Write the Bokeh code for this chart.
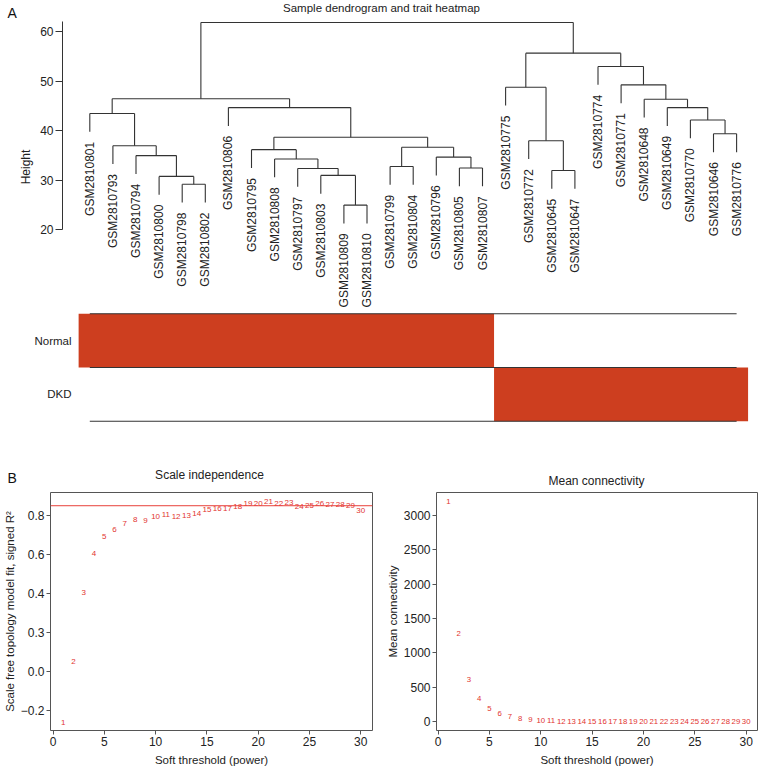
from bokeh.plotting import figure
from bokeh.models import LinearAxis, FixedTicker, Range1d, Span
from bokeh.layouts import row
from bokeh.embed import file_html
from bokeh.resources import INLINE
from bokeh.core.properties import value

FONT = "Liberation Sans"

# ---------------- data ----------------
sample_labels = ["GSM2810801", "GSM2810793", "GSM2810794", "GSM2810800", "GSM2810798",
                 "GSM2810802", "GSM2810806", "GSM2810795", "GSM2810808", "GSM2810797",
                 "GSM2810803", "GSM2810809", "GSM2810810", "GSM2810799", "GSM2810804",
                 "GSM2810796", "GSM2810805", "GSM2810807", "GSM2810775", "GSM2810772",
                 "GSM2810645", "GSM2810647", "GSM2810774", "GSM2810771", "GSM2810648",
                 "GSM2810649", "GSM2810770", "GSM2810646", "GSM2810776"]
sample_groups = ["Normal"] * 18 + ["DKD"] * 11
trait_rows = ["DKD", "Normal"]

# merges: (child a, child b, height); ints are leaves, "mK" are earlier merges
merges = [
    (4, 5, 29.2), (3, "m0", 30.8), (2, "m1", 35.0), (1, "m2", 37.0), (0, "m3", 43.5),
    (11, 12, 25.0), (10, "m5", 31.0), (9, "m6", 32.4), (8, "m7", 34.3), (7, "m8", 36.2),
    (13, 14, 32.8), (16, 17, 32.5), (15, "m11", 34.7), ("m10", "m12", 36.7),
    ("m9", "m13", 38.7), (6, "m14", 44.7), ("m4", "m15", 46.5),
    (20, 21, 32.0), (19, "m17", 38.0), (18, "m18", 48.8),
    (27, 28, 39.4), (26, "m20", 42.2), (25, "m21", 44.7), (24, "m22", 46.4),
    (23, "m23", 49.3), (22, "m24", 53.0), ("m19", "m25", 55.7), ("m16", "m26", 61.9),
]
hang = 3.7
height_ticks = [20, 30, 40, 50, 60]

powers = list(range(1, 31))
sft_r2 = [-0.263, 0.048, 0.405, 0.605, 0.694, 0.730, 0.759, 0.781, 0.776, 0.797,
          0.806, 0.793, 0.798, 0.811, 0.831, 0.838, 0.838, 0.848, 0.862, 0.864,
          0.871, 0.859, 0.867, 0.848, 0.853, 0.864, 0.857, 0.855, 0.853, 0.828]
mean_k = [3200, 1280, 620, 335, 200, 126, 83, 55, 39, 22,
          15, 11, 9, 7, 6, 5, 4.5, 4, 3.5, 3,
          2.8, 2.6, 2.4, 2.2, 2.0, 1.9, 1.8, 1.7, 1.6, 1.5]
r2_cutoff = 0.85
r2_ticks = [-0.2, 0.0, 0.2, 0.4, 0.6, 0.8]
r2_tick_text = ["\u22120.2", "0.0", "0.3", "0.4", "0.6", "0.8"]
k_ticks = [0, 500, 1000, 1500, 2000, 2500, 3000]
power_ticks = [0, 5, 10, 15, 20, 25, 30]

title_a = "Sample dendrogram and trait heatmap"
title_b1 = "Scale independence"
title_b2 = "Mean connectivity"

LINE = "#333333"
RED_FILL = "#CD3E1F"
RED_TXT = "#E2342F"
TXT = "#222222"

W = 758


def bare(p):
    p.outline_line_color = None
    p.grid.visible = False


# ---------------- header A ----------------
hA = figure(width=W, height=21, title=None, x_range=Range1d(0, W), y_range=Range1d(21, 0),
            output_backend="svg", toolbar_location=None,
            x_axis_location=None, y_axis_location=None,
            min_border_left=0, min_border_right=0, min_border_top=0, min_border_bottom=0)
bare(hA)
hA.text(x=[7], y=[12], text=["A"], text_align="left", text_baseline="middle",
        text_font=value(FONT), text_font_size="14px", text_color="#111111")
hA.text(x=[381], y=[7.5], text=[title_a], text_align="center", text_baseline="middle",
        text_font=value(FONT), text_font_size="11.5px", text_color=TXT)

# ---------------- dendrogram ----------------
node_x = {i: float(i) for i in range(len(sample_labels))}
node_h = {}
parent_h = {}
for k, (a, b, h) in enumerate(merges):
    node_x["m%d" % k] = (node_x[a] + node_x[b]) / 2
    node_h["m%d" % k] = h
    parent_h[a] = h
    parent_h[b] = h
leaf_bottom = [parent_h[i] - hang for i in range(len(sample_labels))]
for i in range(len(sample_labels)):
    node_h[i] = leaf_bottom[i]

x0, y0, x1, y1 = [], [], [], []
for k, (a, b, h) in enumerate(merges):
    x0 += [node_x[a], node_x[b], node_x[a]]
    y0 += [h, h, h]
    x1 += [node_x[a], node_x[b], node_x[b]]
    y1 += [node_h[a], node_h[b], h]

p1 = figure(width=W, height=291, title=None,
            x_range=Range1d(-1.182, 28.948), y_range=Range1d(3.29, 62.1),
            output_backend="svg", toolbar_location=None,
            x_axis_location=None, y_axis_location=None,
            min_border_left=62, min_border_right=0, min_border_top=0, min_border_bottom=0)
bare(p1)
p1.segment(x0=x0, y0=y0, x1=x1, y1=y1, line_color=LINE, line_width=1.1)
p1.text(x=list(range(len(sample_labels))), y=leaf_bottom, text=sample_labels,
        angle=1.5708, text_align="right", text_baseline="middle", y_offset=10,
        text_font=value(FONT), text_font_size="12px", text_color=TXT)
ax = LinearAxis(ticker=FixedTicker(ticks=height_ticks), bounds=(20, 62),
                axis_label="Height")
ax.axis_line_color = LINE
ax.major_tick_line_color = LINE
ax.major_tick_out = 7
ax.major_tick_in = 0
ax.minor_tick_line_color = None
ax.major_label_standoff = 2
ax.major_label_text_font = FONT
ax.major_label_text_font_size = "12px"
ax.major_label_text_color = TXT
ax.axis_label_text_font = FONT
ax.axis_label_text_font_size = "12px"
ax.axis_label_text_font_style = "normal"
ax.axis_label_text_color = TXT
ax.axis_label_standoff = 4
p1.add_layout(ax, "left")

# ---------------- trait heatmap ----------------
p2 = figure(width=W, height=118, title=None,
            x_range=Range1d(-0.489, 28.515), y_range=Range1d(-0.024, 2.024),
            output_backend="svg", toolbar_location=None,
            x_axis_location=None, y_axis_location=None,
            min_border_left=78, min_border_right=10, min_border_top=0, min_border_bottom=8)
bare(p2)
# contiguous runs of the same group -> one cell block per run
runs = []
start = 0
for i in range(1, len(sample_groups) + 1):
    if i == len(sample_groups) or sample_groups[i] != sample_groups[start]:
        runs.append((start, i - 1, sample_groups[start]))
        start = i
p2.quad(left=[r[0] - 0.5 for r in runs], right=[r[1] + 0.5 for r in runs],
        bottom=[trait_rows.index(r[2]) for r in runs],
        top=[trait_rows.index(r[2]) + 1 for r in runs],
        fill_color=RED_FILL, line_color=None)
p2.segment(x0=[0, 0, 0], y0=[0, 1, 2], x1=[len(sample_labels) - 1] * 3, y1=[0, 1, 2],
           line_color=LINE, line_width=1.1)
ay = LinearAxis(ticker=FixedTicker(ticks=[0.5, 1.5]),
                major_label_overrides={0.5: trait_rows[0], 1.5: trait_rows[1]})
ay.axis_line_color = None
ay.major_tick_line_color = None
ay.major_tick_out = 0
ay.major_tick_in = 0
ay.minor_tick_line_color = None
ay.major_label_standoff = 7
ay.major_label_text_font = FONT
ay.major_label_text_font_size = "11.5px"
ay.major_label_text_color = TXT
p2.add_layout(ay, "left")

# ---------------- header B ----------------
hB = figure(width=W, height=60, title=None, x_range=Range1d(0, W), y_range=Range1d(490, 430),
            output_backend="svg", toolbar_location=None,
            x_axis_location=None, y_axis_location=None,
            min_border_left=0, min_border_right=0, min_border_top=0, min_border_bottom=0)
bare(hB)
hB.text(x=[7], y=[477.5], text=["B"], text_align="left", text_baseline="middle",
        text_font=value(FONT), text_font_size="14px", text_color="#111111")
hB.text(x=[209, 596], y=[474.5, 480], text=[title_b1, title_b2], text_align="center",
        text_baseline="middle", text_font=value(FONT), text_font_size="12px", text_color=TXT)


# ---------------- soft threshold plots ----------------
def style(p, yticks, ylabel, ybounds, overrides=None):
    p.outline_line_color = "#555555"
    p.grid.visible = False
    xa = LinearAxis(ticker=FixedTicker(ticks=power_ticks), bounds=(0, 30),
                    axis_label="Soft threshold (power)")
    ya = LinearAxis(ticker=FixedTicker(ticks=yticks), bounds=ybounds, axis_label=ylabel)
    if overrides:
        ya.major_label_overrides = overrides
    for a in (xa, ya):
        a.axis_line_color = "#555555"
        a.major_tick_line_color = "#555555"
        a.major_tick_out = 4
        a.major_tick_in = 0
        a.minor_tick_line_color = None
        a.major_label_standoff = 2
        a.major_label_text_font = FONT
        a.major_label_text_font_size = "12px"
        a.major_label_text_color = TXT
        a.axis_label_text_font = FONT
        a.axis_label_text_font_size = "11.5px"
        a.axis_label_text_font_style = "normal"
        a.axis_label_text_color = TXT
        a.axis_label_standoff = 5
    ya.axis_label_standoff = 2
    p.add_layout(xa, "below")
    p.add_layout(ya, "left")


p3 = figure(width=383, height=280, title=None,
            x_range=Range1d(-0.25, 31.15), y_range=Range1d(-0.305, 0.918),
            output_backend="svg", toolbar_location=None,
            x_axis_location=None, y_axis_location=None,
            min_border_left=46, min_border_right=11, min_border_top=2, min_border_bottom=40)
style(p3, r2_ticks, "Scale free topology model fit, signed R\u00b2", (-0.2, 0.8),
      {t: s for t, s in zip(r2_ticks, r2_tick_text)})
p3.add_layout(Span(location=r2_cutoff, dimension="width", line_color="#E8403A", line_width=1))
p3.text(x=powers, y=sft_r2, text=[str(k) for k in powers], text_color=RED_TXT,
        text_font=value(FONT), text_font_size="8px", text_align="center",
        text_baseline="middle")

p4 = figure(width=375, height=280, title=None,
            x_range=Range1d(-0.15, 31.1), y_range=Range1d(-126, 3330),
            output_backend="svg", toolbar_location=None,
            x_axis_location=None, y_axis_location=None,
            min_border_left=49, min_border_right=1, min_border_top=2, min_border_bottom=40)
style(p4, k_ticks, "Mean connectivity", (0, 3000))
p4.text(x=powers, y=mean_k, text=[str(k) for k in powers], text_color=RED_TXT,
        text_font=value(FONT), text_font_size="7.8px", text_align="center",
        text_baseline="middle")

roots = [hA, p1, p2, hB, row(p3, p4)]
open("out.html", "w").write(file_html(roots, INLINE))
